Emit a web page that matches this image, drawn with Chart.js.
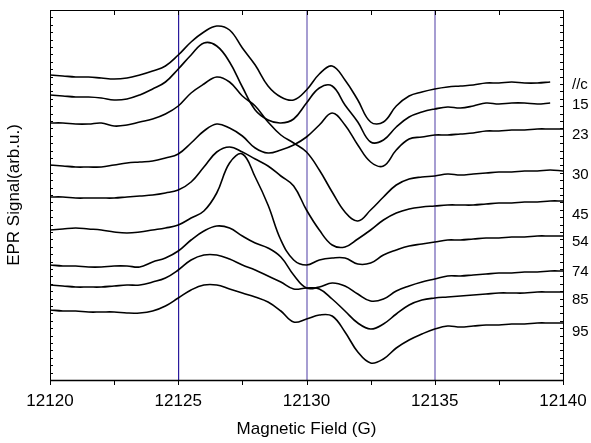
<!DOCTYPE html>
<html lang="en">
<head>
<meta charset="UTF-8">
<title>EPR spectra</title>
<script src="https://cdn.jsdelivr.net/npm/chart.js"></script>
<style>
  html, body { margin: 0; padding: 0; background: #fff; }
</style>
</head>
<body>
<canvas id="epr" width="591" height="443"></canvas>
<script>
// magnetic field (G), sampled every 0.5 G
const field = [12120, 12120.5, 12121, 12121.5, 12122, 12122.5, 12123, 12123.5, 12124, 12124.5,
               12125, 12125.5, 12126, 12126.5, 12127, 12127.5, 12128, 12128.5, 12129, 12129.5,
               12130, 12130.5, 12131, 12131.5, 12132, 12132.5, 12133, 12133.5, 12134, 12134.5,
               12135, 12135.5, 12136, 12136.5, 12137, 12137.5, 12138, 12138.5, 12139, 12139.5,
               12140];

// EPR signal for each orientation, stacked with a vertical offset (arb. u.)
const specC  = [305,304,303,303,302,301,302,305,309,314,325,338,348,354,350,332,315,294,283,280,
                290,306,314,300,280,258,258,274,284,288,291,293,294,295,297,297,298,297,297,298,null];
const spec15 = [285,284,283,283,282,280,281,285,291,298,311,325,337,334,318,293,270,260,257,261,
                277,292,294,275,258,238,240,253,263,268,271,273,272,274,277,276,277,277,276,277,null];
const spec23 = [215,214,213,213,213,215,217,218,219,222,226,237,249,256,252,244,232,227,230,235,
                243,255,267,255,235,218,214,230,241,243,245,245,246,247,249,249,250,250,251,251,251];
const spec30 = [257,257,256,256,257,254,255,258,261,266,274,287,296,303,298,284,274,258,245,237,
                228,210,188,168,159,170,183,195,201,203,204,206,205,206,207,208,208,209,209,210,209];
const spec45 = [183,183,182,182,182,182,183,184,185,187,190,198,213,228,233,228,221,214,204,194,
                170,150,135,133,141,150,160,167,171,173,174,175,175,175,176,177,177,178,178,179,179];
const spec54 = [150,151,152,151,150,148,147,148,150,152,155,162,169,187,217,226,203,175,140,120,
                115,120,122,122,116,117,125,130,134,136,138,140,140,141,142,142,143,143,144,144,144];
const spec74 = [115,114,114,113,113,114,114,113,118,122,129,140,149,154,152,144,137,132,123,105,
                 92, 93, 97, 94, 86, 79, 81, 89, 94, 98,101,104,104,105,106,107,107,108,108,109,109];
const spec85 = [ 95, 94, 93, 93, 93, 94, 95, 95, 98,102,110,120,125,125,121,115,110,104, 98, 91,
                 92, 91, 81, 69, 57, 51, 56, 66, 75, 80, 82, 83, 84, 85, 86, 87, 87, 87, 88, 88, 88];
const spec95 = [ 70, 69, 69, 68, 68, 68, 67, 67, 69, 74, 82, 90, 95, 95, 91, 87, 83, 78, 69, 58,
                 61, 65, 64, 48, 28, 17, 21, 32, 40, 46, 51, 54, 53, 54, 55, 55, 56, 56, 57, 57, 57];

// orientation labels on the right and the level each one sits at
const angles = ['//c', '15', '23', '30', '45', '54', '74', '85', '95'];
const angleLevel = [295, 275, 245, 205, 165, 138, 108, 80, 48];

const spectra = [specC, spec15, spec23, spec30, spec45, spec54, spec74, spec85, spec95];
const FONT = '"Liberation Sans", Arial, Helvetica, sans-serif';

// reference field lines
const markColor = { 12125: '#2a1a9c', 12130: '#a69dd2', 12135: '#a69dd2' };
const markWidth = { 12125: 1.2, 12130: 2, 12135: 2 };

// frame with tick marks plus the orientation labels
const framePlugin = {
  id: 'frame',
  afterDatasetsDraw(chart) {
    const { ctx, chartArea: a, scales: { x, y } } = chart;
    ctx.save();
    ctx.strokeStyle = '#000';
    ctx.lineWidth = 1;
    const seg = (x1, y1, x2, y2) => { ctx.beginPath(); ctx.moveTo(x1, y1); ctx.lineTo(x2, y2); ctx.stroke(); };
    ctx.strokeRect(a.left + 0.5, a.top + 0.5, a.right - a.left, a.bottom - a.top);
    ctx.lineWidth = 1.5;
    seg(a.left, a.bottom + 0.5, a.right + 1, a.bottom + 0.5);
    ctx.lineWidth = 1;
    for (let v = x.min; v <= x.max; v += 2.5) {
      const px = Math.round(x.getPixelForValue(v)) + 0.5;
      seg(px, a.bottom, px, a.bottom + 5);
      seg(px, a.top, px, a.top + 5);
    }
    const step = (y.max - y.min) / 50;
    for (let i = 0; i <= 50; i++) {
      const py = Math.round(y.getPixelForValue(y.min + i * step)) + 0.5;
      seg(a.left, py, a.left + 3, py);
      seg(a.right, py, a.right - 3, py);
    }
    ctx.fillStyle = '#000';
    ctx.font = '15px ' + FONT;
    ctx.textAlign = 'left';
    ctx.textBaseline = 'middle';
    angles.forEach((t, i) => ctx.fillText(t, a.right + 9, y.getPixelForValue(angleLevel[i])));
    ctx.restore();
  }
};

new Chart(document.getElementById('epr'), {
  type: 'line',
  data: {
    datasets: spectra.map((s, i) => ({
      label: angles[i],
      data: field.map((f, j) => ({ x: f, y: s[j] })),
      borderColor: '#000',
      borderWidth: 1.6,
      pointRadius: 0,
      tension: 0.4,
      spanGaps: false
    }))
  },
  options: {
    responsive: false,
    animation: false,
    layout: { padding: { top: 10, right: 28, left: 0, bottom: 0 } },
    plugins: { legend: { display: false }, tooltip: { enabled: false } },
    scales: {
      x: {
        type: 'linear',
        min: 12120,
        max: 12140,
        border: { display: false },
        grid: {
          drawTicks: false,
          color: c => markColor[c.tick.value] || 'rgba(0,0,0,0)',
          lineWidth: c => markWidth[c.tick.value] || 0
        },
        ticks: {
          stepSize: 5,
          padding: 11,
          color: '#000',
          font: { family: FONT, size: 17 },
          maxRotation: 0,
          callback: v => String(v)
        },
        title: {
          display: true,
          text: 'Magnetic Field (G)',
          color: '#000',
          font: { family: FONT, size: 17 },
          padding: { top: 0, bottom: 3 }
        },
        // end labels may hang past the frame; keep the plot width fixed
        afterFit: s => { s.height = 63; s.paddingLeft = 0; s.paddingRight = 0; }
      },
      y: {
        min: 0,
        max: 370,
        border: { display: false },
        grid: { display: false },
        ticks: { display: false },
        title: {
          display: true,
          text: 'EPR Signal(arb.u.)',
          color: '#000',
          font: { family: FONT, size: 17 },
          padding: { top: 4, bottom: 0 }
        },
        afterFit: s => { s.width = 50; }
      }
    }
  },
  plugins: [framePlugin]
});
</script>
</body>
</html>
